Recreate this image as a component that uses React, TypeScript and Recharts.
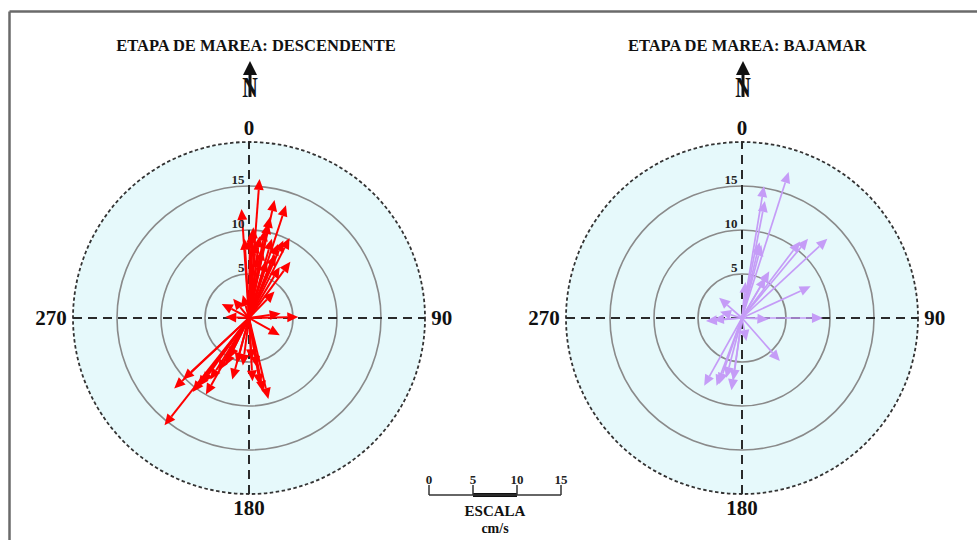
import React from "react";
import { ScatterChart, Scatter, XAxis, YAxis, ReferenceLine, ReferenceDot } from "recharts";

// current vectors, cm/s (east / north components)
const descEast = [
  1.2, -0.85, 2.9, 4.2, 2.2, 0.3, 1.2, 4.6, 4.7, 3.5, 2.9, 0.1, 1.8, 2.6, 3.3, 0.8, 1.5, 3.9, 2.0, -0.5,
  2.4, 1.0, 3.0, 0.5,
  -1.8, -3.1, -2.7, -0.7, 3.6, 5.6, 3.5,
  -9.6, -8.5, -7.5, -6.4, -4.9, -5.8, -2.7, -1.9, -0.7, -1.4, 0.4, 1.25, 2.2, 0.9, 0.3, -4.4, 1.6, -3.5,
  -5.3, -2.3,
];
const descNorth = [
  15.8, 12.4, 13.4, 12.8, 10.8, 9.8, 9.3, 9.1, 6.4, 5.8, 3.0, 9.2, 10.0, 9.0, 8.4, 8.6, 7.8, 8.8, 6.5, 9.0,
  11.5, 7.0, 7.2, 10.3,
  2.2, 1.6, 0.1, 2.6, 0.5, 0.1, -1.95,
  -12.2, -8.0, -7.0, -8.4, -8.7, -7.8, -5.4, -7.0, -5.4, -5.2, -7.2, -7.6, -9.2, -5.6, -4.8, -7.0, -8.4, -6.0,
  -7.4, -4.6,
];

const bajEast = [
  5.3, 2.5, 2.6, 2.0, 2.2, 9.7, 7.5, 6.6, 7.8, 3.1, 2.7, 0.4, 9.2, 3.0,
  -2.6, -2.5, -4.1, -3.3, 4.3, 0.5, -4.3, -2.9, -2.6, -1.2, -1.0, -1.8,
];
const bajNorth = [
  16.6, 15.0, 13.3, 8.6, 8.3, 9.0, 9.0, 8.7, 3.6, 5.3, 4.6, 4.1, 0.0, -0.15,
  2.3, 0.7, -0.35, -0.2, -4.9, -2.6, -7.7, -7.7, -7.5, -8.2, -7.1, -6.8,
];

const ringValues = [5, 10, 15];
const outerRing = 20;
const bearings = [0, 90, 180, 270];
const scaleTicks = [0, 5, 10, 15];
const scaleBold = [5, 10];

const FONT = "'Liberation Serif', 'Times New Roman', serif";

function arrowShape(color: string, width: number) {
  return (props: any) => {
    const { x1, y1, x2, y2 } = props;
    const dx = x2 - x1;
    const dy = y2 - y1;
    const len = Math.hypot(dx, dy) || 1;
    const ux = dx / len;
    const uy = dy / len;
    const hl = Math.min(11, len * 0.6);
    const hw = 5;
    const bx = x2 - ux * hl;
    const by = y2 - uy * hl;
    const pts = `${x2},${y2} ${bx - uy * hw},${by + ux * hw} ${bx + uy * hw},${by - ux * hw}`;
    return (
      <g>
        <line x1={x1} y1={y1} x2={bx} y2={by} stroke={color} strokeWidth={width} />
        <polygon points={pts} fill={color} />
      </g>
    );
  };
}

function circleShape(stroke: string, fill: string, width: number, dash?: string) {
  return (props: any) => (
    <circle
      cx={props.x1}
      cy={props.y1}
      r={Math.abs(props.x2 - props.x1)}
      fill={fill}
      stroke={stroke}
      strokeWidth={width}
      strokeDasharray={dash}
    />
  );
}

function Panel({ east, north, color, lineWidth, left }: { east: number[]; north: number[]; color: string; lineWidth: number; left: number }) {
  const tips = east.map((e, i) => ({ x: e, y: north[i] }));
  const arrow = arrowShape(color, lineWidth);
  return (
    <div style={{ position: "absolute", left, top: 98 }}>
      <ScatterChart width={440} height={440} margin={{ top: 0, right: 0, bottom: 0, left: 0 }}>
        <XAxis type="number" dataKey="x" domain={[-25, 25]} hide allowDataOverflow />
        <YAxis type="number" dataKey="y" domain={[-25, 25]} hide allowDataOverflow />
        <ReferenceLine
          segment={[{ x: 0, y: 0 }, { x: outerRing, y: 0 }]}
          shape={circleShape("#333", "#e6f9fb", 1.8, "3.5 2.5")}
          ifOverflow="visible"
        />
        {ringValues.map((r) => (
          <ReferenceLine key={"ring" + r} segment={[{ x: 0, y: 0 }, { x: r, y: 0 }]} shape={circleShape("#8a8a8a", "none", 1.6)} ifOverflow="visible" />
        ))}
        <ReferenceLine segment={[{ x: 0, y: -outerRing }, { x: 0, y: outerRing }]} stroke="#2a2a2a" strokeWidth={2} strokeDasharray="9 6" ifOverflow="visible" />
        <ReferenceLine segment={[{ x: -outerRing, y: 0 }, { x: outerRing, y: 0 }]} stroke="#2a2a2a" strokeWidth={2} strokeDasharray="9 6" ifOverflow="visible" />
        {tips.map((t, i) => (
          <ReferenceLine key={"a" + i} segment={[{ x: 0, y: 0 }, { x: t.x, y: t.y }]} shape={arrow} ifOverflow="visible" />
        ))}
        {ringValues.map((r) => (
          <ReferenceDot
            key={"lab" + r}
            x={-0.5}
            y={r + 0.75}
            ifOverflow="visible"
            shape={(p: any) => (
              <text x={p.cx} y={p.cy} textAnchor="end" dominantBaseline="central" fontFamily={FONT} fontWeight="bold" fontSize={13} fill="#222">
                {r}
              </text>
            )}
          />
        ))}
        {bearings.map((b) => {
          const side = b === 90 || b === 270;
          const rad = side ? 20.7 : 21.6;
          const a = (b * Math.PI) / 180;
          return (
            <ReferenceDot
              key={"b" + b}
              x={Math.round(rad * Math.sin(a) * 100) / 100}
              y={Math.round(rad * Math.cos(a) * 100) / 100}
              ifOverflow="visible"
              shape={(p: any) => (
                <text
                  x={p.cx}
                  y={p.cy}
                  textAnchor={b === 90 ? "start" : b === 270 ? "end" : "middle"}
                  dominantBaseline="central"
                  fontFamily={FONT}
                  fontWeight="bold"
                  fontSize={21}
                  fill="#111"
                >
                  {b}
                </text>
              )}
            />
          );
        })}
        <Scatter data={tips} shape={() => <g />} isAnimationActive={false} />
      </ScatterChart>
    </div>
  );
}

function ScaleTick({ x, y, payload }: any) {
  return (
    <text x={x} y={y} textAnchor="middle" fontFamily={FONT} fontWeight="bold" fontSize={13} fill="#222">
      {payload.value}
    </text>
  );
}

function ScaleBar() {
  return (
    <div style={{ position: "absolute", left: 415, top: 465 }}>
      <ScatterChart width={160} height={40} margin={{ top: 0, right: 14, bottom: 0, left: 14 }}>
        <XAxis
          type="number"
          dataKey="x"
          orientation="top"
          domain={[0, 15]}
          ticks={scaleTicks}
          interval={0}
          height={30}
          tickSize={10}
          tickMargin={1}
          axisLine={{ stroke: "#333", strokeWidth: 1.5 }}
          tickLine={{ stroke: "#333", strokeWidth: 1.5 }}
          tick={<ScaleTick />}
        />
        <YAxis type="number" dataKey="y" domain={[0, 1]} hide />
        <ReferenceLine
          segment={[{ x: scaleBold[0], y: 1 }, { x: scaleBold[1], y: 1 }]}
          stroke="#111"
          strokeWidth={4}
          ifOverflow="visible"
        />
        <Scatter data={[{ x: 0, y: 0 }]} shape={() => <g />} isAnimationActive={false} />
      </ScatterChart>
    </div>
  );
}

function NorthArrow({ cx }: { cx: number }) {
  return (
    <g>
      <polygon points={`${cx},61 ${cx - 7},75 ${cx + 7},75`} fill="#111" />
      <rect x={cx - 1.5} y={74} width={3} height={23} fill="#111" />
      <text transform={`translate(${cx},97) scale(0.72,1)`} textAnchor="middle" fontFamily={FONT} fontWeight="bold" fontSize={30} fill="#111">
        N
      </text>
    </g>
  );
}

export default function App() {
  return (
    <div style={{ position: "absolute", left: 0, top: 0, width: 977, height: 540, background: "#fff", overflow: "hidden" }}>
      <svg width={977} height={540} style={{ position: "absolute", left: 0, top: 0 }}>
        <line x1={9.5} y1={11.5} x2={977} y2={11.5} stroke="#6a6a6a" strokeWidth={2.5} />
        <line x1={9.5} y1={11.5} x2={9.5} y2={540} stroke="#6a6a6a" strokeWidth={2.5} />
        <text x={256} y={51} textAnchor="middle" fontFamily={FONT} fontWeight="bold" fontSize={16.5} fill="#111">
          ETAPA DE MAREA: DESCENDENTE
        </text>
        <text x={747} y={51} textAnchor="middle" fontFamily={FONT} fontWeight="bold" fontSize={16.5} fill="#111">
          ETAPA DE MAREA: BAJAMAR
        </text>
        <NorthArrow cx={250} />
        <NorthArrow cx={743} />
        <text x={495} y={516} textAnchor="middle" fontFamily={FONT} fontWeight="bold" fontSize={15} fill="#111">
          ESCALA
        </text>
        <text x={495} y={533} textAnchor="middle" fontFamily={FONT} fontWeight="bold" fontSize={14} fill="#111">
          cm/s
        </text>
      </svg>
      <Panel east={descEast} north={descNorth} color="#ff0000" lineWidth={2} left={29} />
      <Panel east={bajEast} north={bajNorth} color="#c59cf7" lineWidth={1.7} left={522} />
      <ScaleBar />
    </div>
  );
}
